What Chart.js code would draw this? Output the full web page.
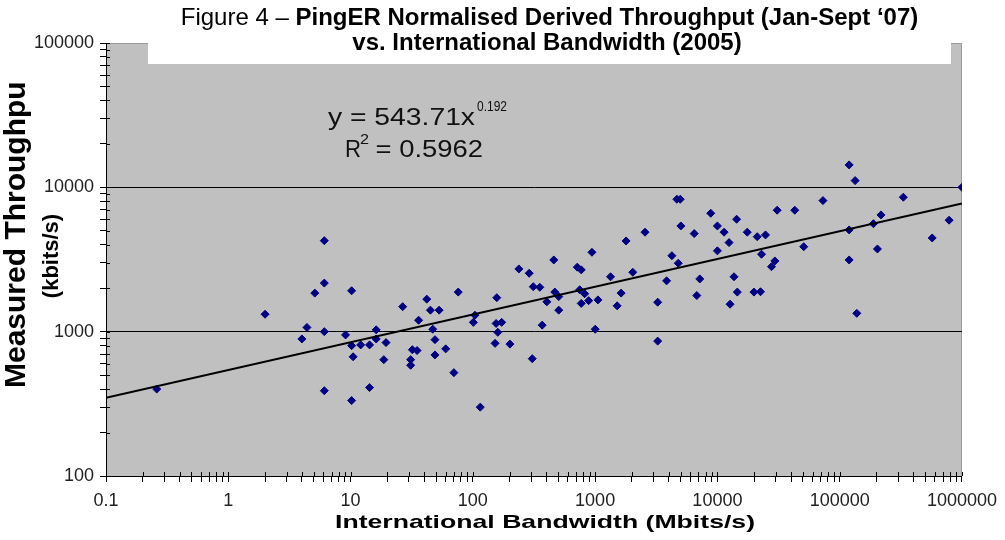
<!DOCTYPE html>
<html>
<head>
<meta charset="utf-8">
<script src="https://cdn.jsdelivr.net/npm/chart.js@4.4.0/dist/chart.umd.min.js"></script>
<style>
  html, body { margin: 0; padding: 0; background: #fff; }
  #wrap { width: 1005px; height: 540px; position: relative; }
</style>
</head>
<body>
<div id="wrap"><canvas id="chart"></canvas></div>
<script>
// International bandwidth 2005 (Mbits/s), one entry per country
var bandwidth = [
  0.26, 2.0, 4.0, 4.4, 5.1, 6.1, 6.1, 6.1, 6.1, 9.1,
  10.2, 10.2, 12.1, 14.3, 16.2, 16.2, 19.5, 10.5, 18.7, 14.3,
  10.2, 26.7, 36, 42, 45, 53, 47, 49, 32, 35,
  31, 31, 49, 60, 70, 76, 104, 101, 115, 157,
  155, 172, 160, 152, 201, 238, 289, 312, 353, 403,
  369, 306, 459, 468, 504, 504, 715, 770, 942, 748,
  821, 770, 885, 1054, 1002, 1337, 1514, 1632, 1792, 2032,
  2559, 3247, 3247, 3843, 4245, 4786, 4663, 4969, 5025, 6462,
  7176, 6783, 8821, 10000, 10000, 11340, 12455, 14364, 13677, 12690,
  14554, 17550, 19904, 21170, 24740, 30810, 42930, 72990, 22950, 29500,
  27690, 22520, 50820, 119500, 133700, 119500, 188800, 217800, 331500, 203500,
  119500, 138000, 570900, 785200, 1000000
];
// PingER normalised derived throughput Jan-Sept '07 (kbits/s)
var throughput = [
  400, 1320, 890, 1070, 1850, 4270, 2170, 1000, 390, 950,
  1920, 800, 810, 810, 1030, 890, 840, 670, 640, 410,
  333, 1490, 1200, 1680, 1410, 1410, 1040, 880, 750, 740,
  640, 585, 690, 760, 520, 1880, 1300, 1160, 300, 1720,
  1140, 1160, 990, 830, 820, 2720, 2540, 2050, 2030, 1610,
  1110, 650, 3140, 1880, 1750, 1410, 2800, 2680, 3550, 1950,
  1830, 1570, 1640, 1660, 1040, 2400, 1510, 1850, 4250, 2580,
  4890, 1600, 860, 2250, 3360, 2980, 8270, 8270, 5400, 4780,
  2320, 1780, 6610, 5400, 3630, 4890, 4140, 6010, 2400, 1550,
  1880, 4890, 1880, 4550, 4680, 6940, 6940, 8090, 3440, 3090,
  2820, 1890, 3880, 14300, 11130, 5070, 5600, 6440, 8540, 3740,
  3140, 1340, 4460, 5920, 10000
];
// power trendline y = 543.71x^0.192, its two end points
var trendX = [0.1, 1000000];
var trendY = [349, 7715];

var xTickLabels = ['0.1', '1', '10', '100', '1000', '10000', '100000', '1000000'];
var yTickLabels = ['100', '1000', '10000', '100000'];
var yGridLines = [1000, 10000];

var FONT = 'Arial, "Liberation Sans", sans-serif';

function logTicks(labels) {
  var majors = labels.map(Number);
  var out = [];
  for (var i = 0; i < majors.length; i++) {
    out.push({ value: majors[i], major: true });
    if (i < majors.length - 1) {
      for (var k = 2; k <= 9; k++) out.push({ value: majors[i] * k });
    }
  }
  return out;
}

function tickLabel(labels) {
  return function (value) {
    var idx = labels.map(Number).indexOf(value);
    return idx >= 0 ? labels[idx] : '';
  };
}

// draws text squeezed/stretched to a given width
function fitText(ctx, text, x, y, font, width) {
  ctx.save();
  ctx.font = font;
  var w = ctx.measureText(text).width;
  ctx.translate(x, y);
  ctx.scale(width / w, 1);
  ctx.fillText(text, 0, 0);
  ctx.restore();
}

var points = bandwidth.map(function (b, i) { return { x: b, y: throughput[i] }; });
var trend = trendX.map(function (t, i) { return { x: t, y: trendY[i] }; });

var plotBg = {
  id: 'plotBg',
  beforeDraw: function (chart) {
    var a = chart.chartArea, ctx = chart.ctx;
    ctx.save();
    ctx.fillStyle = '#c0c0c0';
    ctx.fillRect(a.left, a.top, a.right - a.left, a.bottom - a.top);
    ctx.strokeStyle = '#9a9a9a';
    ctx.lineWidth = 1;
    ctx.beginPath();
    ctx.moveTo(a.left, a.top + 0.5);
    ctx.lineTo(a.right - 0.5, a.top + 0.5);
    ctx.lineTo(a.right - 0.5, a.bottom);
    ctx.stroke();
    ctx.restore();
  },
  afterDraw: function (chart) {
    var ctx = chart.ctx, a = chart.chartArea;
    var xs = chart.scales.x, ys = chart.scales.y;
    ctx.save();
    // inner halves of the tick marks
    ctx.strokeStyle = '#000';
    ctx.lineWidth = 1;
    ctx.beginPath();
    ys.ticks.forEach(function (t) {
      var py = Math.round(ys.getPixelForValue(t.value)) + 0.5;
      ctx.moveTo(a.left, py); ctx.lineTo(a.left + 4, py);
    });
    xs.ticks.forEach(function (t) {
      var px = Math.round(xs.getPixelForValue(t.value)) + 0.5;
      ctx.moveTo(px, a.bottom); ctx.lineTo(px, a.bottom - 4);
    });
    ctx.stroke();

    // white box behind the figure caption
    ctx.fillStyle = '#fff';
    ctx.fillRect(148, 0, 951 - 148, 64);

    ctx.fillStyle = '#000';
    ctx.textBaseline = 'alphabetic';
    ctx.textAlign = 'left';
    // caption, line 1 mixed weight
    var p1 = 'Figure 4 \u2013 ', p2 = 'PingER Normalised Derived Throughput (Jan-Sept \u201807)';
    ctx.font = '24px ' + FONT;
    var w1 = ctx.measureText(p1).width;
    ctx.font = 'bold 24px ' + FONT;
    var w2 = ctx.measureText(p2).width;
    var sx = 549.5 - (w1 + w2) / 2;
    ctx.font = '24px ' + FONT;
    ctx.fillText(p1, sx, 25);
    ctx.font = 'bold 24px ' + FONT;
    ctx.fillText(p2, sx + w1, 25);
    ctx.textAlign = 'center';
    ctx.fillText('vs. International Bandwidth (2005)', 547, 50);
    ctx.textAlign = 'left';

    // trendline equation
    ctx.fillStyle = '#111';
    fitText(ctx, 'y = 543.71x', 328, 125, '23px ' + FONT, 147);
    fitText(ctx, '0.192', 477, 111, '14px ' + FONT, 30);
    fitText(ctx, 'R', 345, 157, '23px ' + FONT, 16);
    fitText(ctx, '2', 360, 144, '14px ' + FONT, 9);
    fitText(ctx, ' = 0.5962', 368, 157, '23px ' + FONT, 115);

    // axis titles
    ctx.fillStyle = '#000';
    fitText(ctx, 'International Bandwidth (Mbits/s)', 335, 528, 'bold 19px ' + FONT, 420);

    ctx.save();
    ctx.beginPath();
    ctx.rect(0, 82, 100, 458);
    ctx.clip();
    ctx.translate(25, 388);
    ctx.rotate(-Math.PI / 2);
    ctx.font = 'bold 30px ' + FONT;
    ctx.fillText('Measured Throughput', 0, 0);
    ctx.restore();

    ctx.save();
    ctx.translate(58, 256);
    ctx.rotate(-Math.PI / 2);
    ctx.font = 'bold 22px ' + FONT;
    ctx.textAlign = 'center';
    ctx.fillText('(kbits/s)', 0, 0);
    ctx.restore();

    ctx.restore();
  }
};

new Chart(document.getElementById('chart'), {
  type: 'scatter',
  data: {
    datasets: [{
      type: 'line',
      label: 'Power trendline',
      data: trend,
      borderColor: '#000',
      borderWidth: 2,
      pointRadius: 0,
      fill: false,
      order: 0
    }, {
      label: 'Throughput vs bandwidth',
      data: points,
      pointStyle: 'rectRot',
      pointRadius: 4,
      backgroundColor: '#000080',
      borderColor: '#000080',
      borderWidth: 1,
      order: 1
    }]
  },
  options: {
    responsive: true,
    maintainAspectRatio: false,
    animation: false,
    layout: { padding: { top: 43, right: 39, left: 0, bottom: 0 } },
    plugins: {
      legend: { display: false },
      tooltip: { enabled: false },
      title: { display: false }
    },
    scales: {
      x: {
        type: 'logarithmic',
        min: 0.1,
        max: 1000000,
        afterBuildTicks: function (scale) { scale.ticks = logTicks(xTickLabels); },
        afterFit: function (scale) { scale.height = 64; },
        border: { display: true, color: '#000', width: 1 },
        grid: { drawOnChartArea: false, drawTicks: true, tickLength: 6, tickColor: '#000', tickWidth: 1 },
        ticks: {
          callback: tickLabel(xTickLabels),
          autoSkip: false,
          maxRotation: 0,
          padding: 8,
          color: '#222',
          font: { family: FONT, size: 18 }
        }
      },
      y: {
        type: 'logarithmic',
        min: 100,
        max: 100000,
        afterBuildTicks: function (scale) { scale.ticks = logTicks(yTickLabels); },
        afterFit: function (scale) { scale.width = 106; },
        border: { display: true, color: '#000', width: 1 },
        grid: {
          drawOnChartArea: true,
          drawTicks: true,
          tickLength: 6,
          tickColor: '#000',
          tickWidth: 1,
          color: function (c) {
            return c.tick && yGridLines.indexOf(c.tick.value) >= 0 ? '#000' : 'rgba(0,0,0,0)';
          }
        },
        ticks: {
          callback: tickLabel(yTickLabels),
          autoSkip: false,
          padding: 6,
          color: '#222',
          font: { family: FONT, size: 18 }
        }
      }
    }
  },
  plugins: [plotBg]
});
</script>
</body>
</html>
